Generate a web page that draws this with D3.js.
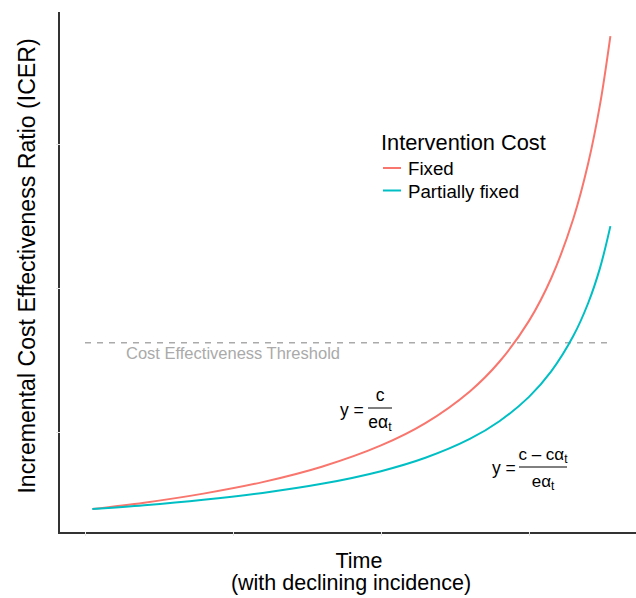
<!DOCTYPE html>
<html>
<head>
<meta charset="utf-8">
<script src="https://cdn.jsdelivr.net/npm/d3@7"></script>
<style>
  html, body { margin: 0; padding: 0; background: #fff; }
  svg { display: block; font-family: "Liberation Sans", Arial, Helvetica, sans-serif; }
</style>
</head>
<body>
<svg id="chart" width="636" height="598"></svg>
<script>
// ---- Data ----
const time = [0.05, 0.4, 0.8, 1.2, 1.6, 2.0, 2.3, 2.6, 2.8, 3.0, 3.15, 3.3, 3.4, 3.48, 3.55];
const icerFixed = [0.465, 0.509, 0.572, 0.652, 0.759, 0.907, 1.062, 1.282, 1.488, 1.772, 2.068, 2.483, 2.866, 3.275, 3.75];
const icerPartial = [0.465, 0.491, 0.529, 0.577, 0.640, 0.728, 0.821, 0.952, 1.075, 1.244, 1.421, 1.668, 1.896, 2.140, 2.43];
const seriesNames = ["Fixed", "Partially fixed"];
const seriesColors = ["#F8766D", "#00BFC4"];
const threshold = 1.62;
const thresholdRange = [0, 3.55];
const xTicks = [0, 1, 2, 3];
const yTicks = [1, 2, 3];

const svg = d3.select("#chart");
const x = d3.scaleLinear().domain([-0.1757, 3.723]).range([59, 636]);
const y = d3.scaleLinear().domain([0.2986, 3.917]).range([533, 12]);

// Threshold line
svg.append("line")
  .attr("x1", x(thresholdRange[0])).attr("x2", x(thresholdRange[1]))
  .attr("y1", y(threshold)).attr("y2", y(threshold))
  .attr("stroke", "#aaaaaa").attr("stroke-width", 1.4)
  .attr("stroke-dasharray", "6,6");
svg.append("text")
  .attr("x", x(1)).attr("y", y(threshold) + 16)
  .attr("text-anchor", "middle")
  .attr("font-size", 16.5).attr("fill", "#aaaaaa")
  .text("Cost Effectiveness Threshold");

// Curves
const line = d3.line().x(d => x(d[0])).y(d => y(d[1])).curve(d3.curveCatmullRom.alpha(0.5));
[icerFixed, icerPartial].forEach((vals, i) => {
  svg.append("path")
    .datum(time.map((t, j) => [t, vals[j]]))
    .attr("d", line)
    .attr("fill", "none")
    .attr("stroke", seriesColors[i])
    .attr("stroke-width", 2);
});

// Axes lines
svg.append("line").attr("x1", 59).attr("x2", 59).attr("y1", y.range()[1]).attr("y2", 534)
  .attr("stroke", "#333").attr("stroke-width", 2);
svg.append("line").attr("x1", 58).attr("x2", 636).attr("y1", 533).attr("y2", 533)
  .attr("stroke", "#333").attr("stroke-width", 2);

// Ticks (light)
const xAxis = d3.axisBottom(x).tickValues(xTicks).tickSize(4).tickFormat("");
const gx = svg.append("g").attr("transform", "translate(0,532)").call(xAxis);
gx.select(".domain").remove();
gx.selectAll(".tick line").attr("stroke", "#e6e6e6").attr("stroke-width", 1);
const yAxis = d3.axisLeft(y).tickValues(yTicks).tickSize(4).tickFormat("");
const gy = svg.append("g").attr("transform", "translate(60,0)").call(yAxis);
gy.select(".domain").remove();
gy.selectAll(".tick line").attr("stroke", "#e6e6e6").attr("stroke-width", 1);

// Axis titles
svg.append("text").attr("x", 359).attr("y", 568).attr("text-anchor", "middle")
  .attr("font-size", 21.5).attr("fill", "#000").text("Time");
svg.append("text").attr("x", 351).attr("y", 590).attr("text-anchor", "middle")
  .attr("font-size", 21.5).attr("fill", "#000").text("(with declining incidence)");
svg.append("text")
  .attr("transform", "translate(35,266) rotate(-90)")
  .attr("text-anchor", "middle")
  .attr("font-size", 23.1).attr("fill", "#000")
  .text("Incremental Cost Effectiveness Ratio (ICER)");

// Legend
const lg = svg.append("g");
lg.append("text").attr("x", 381).attr("y", 150).attr("font-size", 21.8).attr("fill", "#000")
  .text("Intervention Cost");
seriesNames.forEach((n, i) => {
  const yy = 168 + i * 22.5;
  lg.append("line").attr("x1", 383).attr("x2", 401).attr("y1", yy).attr("y2", yy)
    .attr("stroke", seriesColors[i]).attr("stroke-width", 2);
  lg.append("text").attr("x", 408).attr("y", yy + 7).attr("font-size", 18.7).attr("fill", "#000").text(n);
});

// Equations
function fraction(g, cx, yBar, numParts, denParts, halfW, fs) {
  g.append("line").attr("x1", cx - halfW).attr("x2", cx + halfW)
    .attr("y1", yBar).attr("y2", yBar).attr("stroke", "#000").attr("stroke-width", 1);
  const num = g.append("text").attr("x", cx).attr("y", yBar - 7).attr("text-anchor", "middle").attr("font-size", fs);
  numParts.forEach(p => {
    const ts = num.append("tspan").text(p.t);
    if (p.sub) ts.attr("font-size", fs * 0.7).attr("dy", 3);
  });
  const den = g.append("text").attr("x", cx).attr("y", yBar + 20).attr("text-anchor", "middle").attr("font-size", fs);
  denParts.forEach(p => {
    const ts = den.append("tspan").text(p.t);
    if (p.sub) ts.attr("font-size", fs * 0.7).attr("dy", 3);
  });
}
const eq = svg.append("g").attr("fill", "#000");
eq.append("text").attr("x", 340).attr("y", 416).attr("font-size", 17.5).text("y =");
fraction(eq, 380, 408, [{t: "c"}], [{t: "e\u03B1"}, {t: "t", sub: true}], 12, 17.5);
eq.append("text").attr("x", 492).attr("y", 474).attr("font-size", 17.5).text("y =");
fraction(eq, 543, 467, [{t: "c \u2013 c\u03B1"}, {t: "t", sub: true}], [{t: "e\u03B1"}, {t: "t", sub: true}], 24, 17);
</script>
</body>
</html>
